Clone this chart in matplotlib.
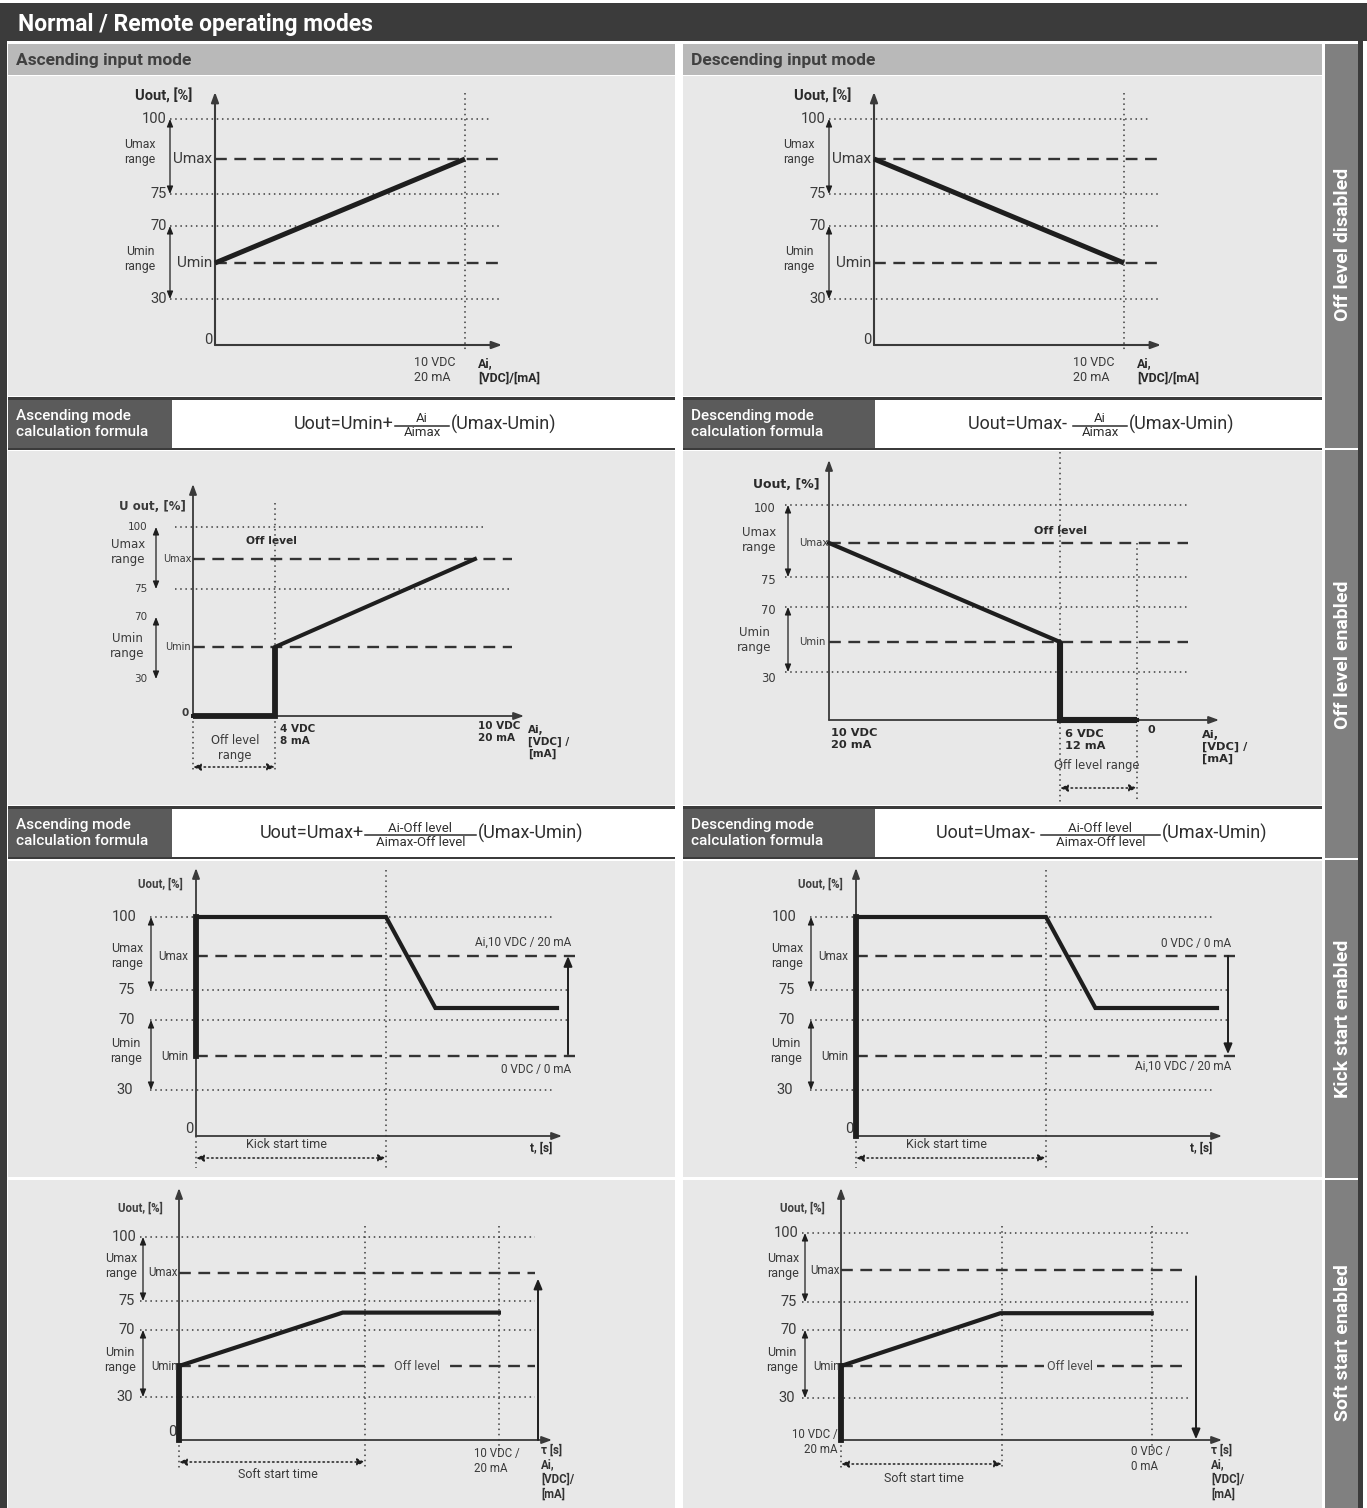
import numpy as np
import matplotlib
matplotlib.use('Agg')
import matplotlib.pyplot as plt
from matplotlib.patches import Rectangle
from matplotlib.transforms import blended_transform_factory as blend, ScaledTranslation

# ---------------- data ----------------
UMIN, UMAX = 50, 90
LEVELS = [0, 30, UMIN, 70, 75, UMAX, 100]
TICK_VALUES = [100, 75, 70, 30]
TICK_TEXT = ['100', '75', '70', '30']

asc_ai = [0, 10]
asc_u = [UMIN, UMAX]
desc_ai = [0, 10]
desc_u = [UMAX, UMIN]

OFF_LEVEL_ASC = 4
OFF_LEVEL_DESC = 6
asc_off_ai = [0, 4, 4, 10]
asc_off_u = [0, 0, UMIN, UMAX]
desc_off_ai = [10, 6, 6, 0]
desc_off_u = [UMAX, UMIN, 0, 0]

KICK_TIME = 5
kick_t = [0, 0, 5, 6.3, 9.5]
kick_asc_u = [UMIN, 100, 100, 72, 72]
kick_desc_u = [0, 100, 100, 72, 72]

SOFT_TIME = 5
soft_asc_t = [0, 0, 4.4, 8.6]
soft_desc_t = [0, 0, 4.95, 9.65]
soft_u = [0, UMIN, 73, 73]

TITLE = 'Normal / Remote operating modes'
COLUMN_HEADERS = ['Ascending input mode', 'Descending input mode']
ROW_LABELS = ['Off level disabled', 'Off level enabled', 'Kick start enabled', 'Soft start enabled']
FORMULA_LABELS = ['Ascending mode\ncalculation formula', 'Descending mode\ncalculation formula']

# ---------------- style ----------------
W, H = 1367, 1508
DARK = '#3b3b3b'
SUBHEAD = '#b9b9b9'
PANEL = '#e8e8e8'
LABELBOX = '#5b5b5b'
SIDE = '#808080'
INK = '#1e1e1e'
TXT = '#3a3a3a'
AXC = '#3a3a3a'
FONT = ['Roboto', 'DejaVu Sans']
VFONT = ['DejaVu Sans']
plt.rcParams['font.family'] = FONT

DOT = dict(color='#3d3d3d', lw=1.1, ls=(0, (1, 2.4)))
DASH = dict(color='#333333', lw=1.7, ls=(0, (5, 3.2)))

fig = plt.figure(figsize=(W / 100, H / 100), dpi=100)
bg = fig.add_axes([0, 0, 1, 1])
bg.set_xlim(0, W)
bg.set_ylim(H, 0)
bg.axis('off')


def rect(x0, y0, x1, y1, c, z=0):
    bg.add_patch(Rectangle((x0, y0), x1 - x0, y1 - y0, facecolor=c,
                           edgecolor='none', zorder=z))


def pw(xp, fp):
    xp = np.asarray(xp, float)
    fp = np.asarray(fp, float)
    o = np.argsort(xp)
    xp, fp = xp[o], fp[o]
    s0 = (fp[1] - fp[0]) / (xp[1] - xp[0])
    s1 = (fp[-1] - fp[-2]) / (xp[-1] - xp[-2])

    def f(v):
        v = np.asarray(v, float)
        out = np.interp(v, xp, fp)
        out = np.where(v < xp[0], fp[0] + (v - xp[0]) * s0, out)
        out = np.where(v > xp[-1], fp[-1] + (v - xp[-1]) * s1, out)
        return out
    return f


def make_chart(xv, xpx, ypx):
    ax = fig.add_axes([0, 0, 1, 1], zorder=2)
    ax.patch.set_visible(False)
    ax.axis('off')
    fx, fxi = pw(xv, xpx), pw(xpx, xv)
    sgn = 1.0 if (xpx[-1] - xpx[0]) * (xv[-1] - xv[0]) > 0 else -1.0
    fy, fyi = pw(LEVELS, ypx), pw(ypx, LEVELS)
    ax.set_xscale('function', functions=(lambda v: sgn * fx(v),
                                         lambda p: fxi(sgn * np.asarray(p, float))))
    ax.set_yscale('function', functions=(lambda v: -fy(v),
                                         lambda p: fyi(-np.asarray(p, float))))
    ax.set_xlim(float(fxi(0)), float(fxi(W)))
    ax.set_ylim(float(fyi(H)), float(fyi(0)))
    ax.set_autoscale_on(False)
    bx = blend(bg.transData, ax.transData)   # x pixel, y data
    by = blend(ax.transData, bg.transData)   # x data, y pixel
    return ax, bx, by


def axes_arrows(ox, oy, ytip, xtip, lw=1.5):
    ap = dict(arrowstyle='-|>,head_length=0.6,head_width=0.22', color=AXC,
              lw=lw, shrinkA=0, shrinkB=0)
    bg.annotate('', xy=(ox, ytip), xytext=(ox, oy), arrowprops=ap, zorder=3)
    bg.annotate('', xy=(xtip, oy), xytext=(ox, oy), arrowprops=ap, zorder=3)


def range_arrow(ax, bx, x, v_top, v_bot):
    ax.annotate('', xy=(x, v_top), xytext=(x, v_bot), xycoords=bx, textcoords=bx,
                arrowprops=dict(arrowstyle='<|-|>,head_length=0.45,head_width=0.18',
                                color=INK, lw=0.9, shrinkA=0, shrinkB=0))


def span_arrow(ax, by, v0, v1, y):
    ax.annotate('', xy=(v1, y), xytext=(v0, y), xycoords=by, textcoords=by,
                arrowprops=dict(arrowstyle='<|-|>,head_length=0.45,head_width=0.2',
                                color=INK, lw=1.1, ls=(0, (1, 2)), shrinkA=0, shrinkB=0))


def level_arrow(ax, bx, x, v_from, v_to):
    ax.annotate('', xy=(x, v_to), xytext=(x, v_from), xycoords=bx, textcoords=bx,
                arrowprops=dict(arrowstyle='-|>,head_length=0.6,head_width=0.25',
                                color=INK, lw=1.4, shrinkA=0, shrinkB=0))


def T(x, y, s, fs=9, **kw):
    kw.setdefault('color', TXT)
    kw.setdefault('ha', 'left')
    kw.setdefault('va', 'center')
    bg.text(x, y, s, fontsize=fs, **kw)


# ---------------- frame ----------------
rect(0, 0, W, H, 'white')
rect(0, 3, W, 41, DARK)
rect(0, 3, 7, H, DARK)
rect(1358, 3, 1363, H, DARK)
T(18, 24, TITLE, 16.5, color='white', fontweight='bold')

for (x0, x1, lab_x1), head, flab in zip([(8, 675, 172), (683, 1322, 875)],
                                        COLUMN_HEADERS, FORMULA_LABELS):
    rect(x0, 44, x1, 75, SUBHEAD)
    T(x0 + 8, 60, head, 12.5, color='#404040', fontweight='bold')
    rect(x0, 76, x1, 396, PANEL)
    rect(x0, 451, x1, 805, PANEL)
    rect(x0, 861, x1, 1177, PANEL)
    rect(x0, 1180, x1, H, PANEL)
    for ya, yb in [(400, 448), (809, 857)]:
        rect(x0, ya - 3, x1, ya, DARK)
        rect(x0, yb, x1, yb + 2, DARK)
        rect(x0, ya, lab_x1, yb, LABELBOX)
        T(x0 + 8, (ya + yb) / 2, flab, 11, color='white', linespacing=1.2,
          fontweight='medium')

rect(1325, 44, 1358, H, SIDE)
for ys in (448, 858, 1178):
    rect(1325, ys, 1358, ys + 2, 'white')
for yc, lab in zip([244, 655, 1019, 1343], ROW_LABELS):
    T(1343, yc, lab, 14, color='white', fontweight='bold', rotation=90, ha='center')

# ---------------- formulas ----------------
FCOL = '#2e2e2e'


def formula(xb0, xb1, y, left, num, den, right, fs=13, ffs=9.5):
    T(xb0 - 1, y, left, fs, color=FCOL, ha='right')
    bg.plot([xb0, xb1], [y + 2, y + 2], color=FCOL, lw=1.1)
    T((xb0 + xb1) / 2, y + 1.5, num, ffs, color=FCOL, ha='center', va='bottom')
    T((xb0 + xb1) / 2, y + 2.5, den, ffs, color=FCOL, ha='center', va='top')
    T(xb1 + 2, y, right, fs, color=FCOL)


formula(395, 449, 424, 'Uout=Umin+', 'Ai', 'Aimax', '(Umax-Umin)')
formula(1073, 1127, 424, 'Uout=Umax- ', 'Ai', 'Aimax', '(Umax-Umin)')
formula(365, 476, 833, 'Uout=Umax+', 'Ai-Off level', 'Aimax-Off level', '(Umax-Umin)')
formula(1041, 1160, 833, 'Uout=Umax- ', 'Ai-Off level', 'Aimax-Off level', '(Umax-Umin)')


# ---------------- row 1: off level disabled ----------------
def chart_basic(xoff, ai, u):
    ox = 215 + xoff
    ax, bx, by = make_chart([0, 10], [ox, 465 + xoff], [345, 299, 263, 226, 194, 159, 119])
    for v, x1 in zip(TICK_VALUES, [490, 500, 500, 500]):
        ax.plot([170 + xoff, x1 + xoff], [v, v], transform=bx, **DOT)
    for v in (UMAX, UMIN):
        ax.plot([ox, 500 + xoff], [v, v], transform=bx, **DASH)
    ax.plot([10, 10], [93, 350], transform=by, **DOT)
    axes_arrows(ox, 345, 92, 502 + xoff)
    for v, t in zip(TICK_VALUES, TICK_TEXT):
        ax.text(167 + xoff, v, t, transform=bx, ha='right', va='center', fontsize=10.5, color=TXT)
    T(212 + xoff, 340, '0', 10.5, ha='right')
    ax.text(212 + xoff, UMAX, 'Umax', transform=bx, ha='right', va='center', fontsize=11, color=TXT)
    ax.text(212 + xoff, UMIN, 'Umin', transform=bx, ha='right', va='center', fontsize=11, color=TXT)
    T(140 + xoff, 152, 'Umax\nrange', 8.8, ha='center', linespacing=1.25)
    T(140 + xoff, 259, 'Umin\nrange', 8.8, ha='center', linespacing=1.25)
    range_arrow(ax, bx, 170 + xoff, 100, 75)
    range_arrow(ax, bx, 170 + xoff, 70, 30)
    T(164 + xoff, 96, 'Uout, [%]', 10.5, ha='center', fontweight='bold', color='#2a2a2a')
    T(414 + xoff, 370, '10 VDC\n20 mA', 9, linespacing=1.2)
    T(478 + xoff, 371, 'Ai,\n[VDC]/[mA]', 9, fontweight='bold', linespacing=1.2, color='#2a2a2a')
    ax.plot(ai, u, color=INK, lw=3.6, solid_capstyle='butt')


chart_basic(0, asc_ai, asc_u)
chart_basic(659, desc_ai, desc_u)

# ---------------- row 2: off level enabled ----------------
# ascending
ax, bx, by = make_chart([0, OFF_LEVEL_ASC, 10], [193, 275, 475],
                        [716, 679, 647, 617, 589, 559, 527])
ax.plot([175, 485], [100, 100], transform=bx, **DOT)
ax.plot([175, 512], [75, 75], transform=bx, **DOT)
for v in (UMAX, UMIN):
    ax.plot([193, 512], [v, v], transform=bx, **DASH)
ax.plot([OFF_LEVEL_ASC] * 2, [503, 772], transform=by, **DOT)
ax.plot([0, 0], [716, 772], transform=by, **DOT)
axes_arrows(193, 716, 484, 524, lw=1.3)
for v, t in zip(TICK_VALUES, TICK_TEXT):
    ax.text(147, v, t, transform=bx, ha='right', va='center', fontsize=7.5, color=TXT, family=VFONT)
T(189, 713, '0', 7.5, ha='right', family=VFONT, fontweight='bold')
ax.text(192, UMAX, 'Umax', transform=bx, ha='right', va='center', fontsize=7, color=TXT, family=VFONT)
ax.text(191, UMIN, 'Umin', transform=bx, ha='right', va='center', fontsize=7, color=TXT, family=VFONT)
T(128, 552, 'Umax\nrange', 8.5, ha='center', family=VFONT, linespacing=1.3)
T(127, 646, 'Umin\nrange', 8.5, ha='center', family=VFONT, linespacing=1.3)
range_arrow(ax, bx, 156, 100, 75)
range_arrow(ax, bx, 156, 70, 30)
T(152, 506, 'U out, [%]', 8.5, ha='center', family=VFONT, fontweight='bold')
T(271, 541, 'Off level', 7.7, ha='center', family=VFONT, fontweight='bold', color='#2a2a2a')
T(280, 735, '4 VDC\n8 mA', 7.5, family=VFONT, fontweight='bold', linespacing=1.3, color='#2a2a2a')
T(235, 748, 'Off level\nrange', 8.3, ha='center', family=VFONT, linespacing=1.25)
span_arrow(ax, by, 0, OFF_LEVEL_ASC, 767)
T(478, 732, '10 VDC\n20 mA', 7.5, family=VFONT, fontweight='bold', linespacing=1.3, color='#2a2a2a')
T(528, 742, 'Ai,\n[VDC] /\n[mA]', 7.5, family=VFONT, fontweight='bold', linespacing=1.25, color='#2a2a2a')
ax.plot(asc_off_ai, asc_off_u, color=INK, lw=2.9, solid_joinstyle='miter')
ax.plot(asc_off_ai[:3], asc_off_u[:3], color=INK, lw=4.2, solid_joinstyle='miter',
        solid_capstyle='butt')

# descending
ax, bx, by = make_chart([0, OFF_LEVEL_DESC, 10], [1137, 1060, 829],
                        [720, 672, 642, 607, 577, 543, 505])
for v in TICK_VALUES:
    ax.plot([785, 1188], [v, v], transform=bx, **DOT)
for v in (UMAX, UMIN):
    ax.plot([829, 1188], [v, v], transform=bx, **DASH)
ax.plot([OFF_LEVEL_DESC] * 2, [452, 802], transform=by, **DOT)
ax.plot([0, 0], [543, 802], transform=by, **DOT)
axes_arrows(829, 720, 460, 1219, lw=1.3)
for v, t in zip(TICK_VALUES, TICK_TEXT):
    dy = 6 if v == 30 else 3
    ax.text(776, v, t, transform=bx + ScaledTranslation(0, -dy / 100, fig.dpi_scale_trans),
            ha='right', va='center', fontsize=8.3, color=TXT, family=VFONT)
ax.text(828, UMAX, 'Umax', transform=bx, ha='right', va='center', fontsize=7.3, color=TXT, family=VFONT)
ax.text(826, UMIN, 'Umin', transform=bx, ha='right', va='center', fontsize=7.3, color=TXT, family=VFONT)
T(759, 540, 'Umax\nrange', 8.5, ha='center', family=VFONT, linespacing=1.3)
T(754, 640, 'Umin\nrange', 8.5, ha='center', family=VFONT, linespacing=1.3)
range_arrow(ax, bx, 788, 100, 75)
range_arrow(ax, bx, 788, 70, 30)
T(786, 484, 'Uout, [%]', 9, ha='center', family=VFONT, fontweight='bold', color='#2a2a2a')
T(1060, 531, 'Off level', 8, ha='center', family=VFONT, fontweight='bold', color='#2a2a2a')
T(831, 739, '10 VDC\n20 mA', 8.2, family=VFONT, fontweight='bold', linespacing=1.25, color='#2a2a2a')
T(1065, 740, '6 VDC\n12 mA', 8.2, family=VFONT, fontweight='bold', linespacing=1.25, color='#2a2a2a')
T(1151, 730, '0', 8, ha='center', family=VFONT, fontweight='bold', color='#2a2a2a')
T(1097, 766, 'Off level range', 8.3, ha='center', family=VFONT)
span_arrow(ax, by, OFF_LEVEL_DESC, 0, 788)
T(1202, 747, 'Ai,\n[VDC] /\n[mA]', 8.2, family=VFONT, fontweight='bold', linespacing=1.2, color='#2a2a2a')
ax.plot(desc_off_ai, desc_off_u, color=INK, lw=3.0, solid_joinstyle='miter')
ax.plot(desc_off_ai[1:], desc_off_u[1:], color=INK, lw=4.4, solid_joinstyle='miter',
        solid_capstyle='butt')


# ---------------- row 3: kick start ----------------
def chart_kick(xoff, t, u, ascending):
    ox = 196 + xoff
    ax, bx, by = make_chart([0, KICK_TIME], [ox, 386 + xoff],
                            [1136, 1090, 1056, 1020, 990, 956, 917])
    for v, x1 in zip(TICK_VALUES, [555, 570, 570, 555]):
        ax.plot([150 + xoff, x1 + xoff], [v, v], transform=bx, **DOT)
    for v in (UMAX, UMIN):
        ax.plot([ox, 575 + xoff], [v, v], transform=bx, **DASH)
    ax.plot([KICK_TIME] * 2, [870, 1168], transform=by, **DOT)
    ax.plot([0, 0], [1136, 1168], transform=by, **DOT)
    axes_arrows(ox, 1136, 868, 562 + xoff, lw=1.3)
    for v, tt, xr in zip(TICK_VALUES, TICK_TEXT, [137, 135, 135, 133]):
        ax.text(xr + xoff, v, tt, transform=bx, ha='right', va='center', fontsize=10.5, color=TXT)
    T(193 + xoff, 1129, '0', 10.5, ha='right')
    ax.text(188 + xoff, UMAX, 'Umax', transform=bx, ha='right', va='center', fontsize=8.5, color=TXT)
    ax.text(188 + xoff, UMIN, 'Umin', transform=bx, ha='right', va='center', fontsize=8.5, color=TXT)
    T(127 + xoff, 956, 'Umax\nrange', 9, ha='center', linespacing=1.25)
    T(126 + xoff, 1051, 'Umin\nrange', 9, ha='center', linespacing=1.25)
    range_arrow(ax, bx, 151 + xoff, 100, 75)
    range_arrow(ax, bx, 151 + xoff, 70, 30)
    T(160 + xoff, 884, 'Uout, [%]', 8.3, ha='center', fontweight='bold', color='#404040')
    if ascending:
        T(571 + xoff, 942, 'Ai,10 VDC / 20 mA', 8.5, ha='right')
        T(571 + xoff, 1069, '0 VDC / 0 mA', 8.5, ha='right')
        level_arrow(ax, bx, 568 + xoff, UMIN + 1, UMAX)
    else:
        T(571 + xoff, 943, '0 VDC / 0 mA', 8.5, ha='right')
        T(571 + xoff, 1066, 'Ai,10 VDC / 20 mA', 8.5, ha='right')
        level_arrow(ax, bx, 568 + xoff, UMAX, UMIN + 1)
    T(286 + xoff, 1145, 'Kick start time', 9, ha='center')
    span_arrow(ax, by, 0, KICK_TIME, 1158)
    T(541 + xoff, 1148, 't, [s]', 8.5, ha='center', fontweight='bold', color='#2a2a2a')
    ax.plot(t, u, color=INK, lw=3.0, solid_joinstyle='miter')
    ax.plot(t[:2], u[:2], color=INK, lw=4.2, solid_capstyle='projecting')


chart_kick(0, kick_t, kick_asc_u, True)
chart_kick(660, kick_t, kick_desc_u, False)


# ---------------- row 4: soft start ----------------
def chart_soft(ox, xsoft, xend, t, ypx, x_grid0, x_grid1, dash_end, tend, off_x,
               span_y, soft_lab_x, soft_lab_y):
    ax, bx, by = make_chart([0, SOFT_TIME], [ox, xsoft], ypx)
    for v in TICK_VALUES:
        ax.plot([x_grid0, x_grid1], [v, v], transform=bx, **DOT)
    ax.plot([ox, dash_end], [UMAX, UMAX], transform=bx, **DASH)
    ax.plot([ox, x_grid1], [UMIN, UMIN], transform=bx, **DASH)
    ax.plot([SOFT_TIME] * 2, [1226, 1470], transform=by, **DOT)
    ax.plot([tend] * 2, [1226, 1452], transform=by, **DOT)
    ax.plot([0, 0], [1440, 1470], transform=by, **DOT)
    axes_arrows(ox, 1440, 1188, xend, lw=1.3)
    d = ox - 179
    for v, tt, xr in zip(TICK_VALUES, TICK_TEXT, [137, 135, 135, 133]):
        ax.text(xr + d, v, tt, transform=bx, ha='right', va='center', fontsize=10.5, color=TXT)
    ax.text(ox - 1, UMAX, 'Umax', transform=bx, ha='right', va='center', fontsize=8.3, color=TXT)
    ax.text(ox - 1, UMIN, 'Umin', transform=bx, ha='right', va='center', fontsize=8.3, color=TXT)
    T(121 + d, 1266, 'Umax\nrange', 9, ha='center', linespacing=1.25)
    T(120 + d, 1360, 'Umin\nrange', 9, ha='center', linespacing=1.25)
    range_arrow(ax, bx, 143 + d, 100, 75)
    range_arrow(ax, bx, 143 + d, 70, 30)
    T(140 + d, 1208, 'Uout, [%]', 8.3, ha='center', fontweight='bold', color='#404040')
    ax.text(off_x, UMIN, 'Off level', transform=bx, ha='center', va='center', fontsize=9,
            color='#4a4a4a', zorder=5, bbox=dict(facecolor=PANEL, edgecolor='none', pad=2.5))
    T(xend - 11, 1472, 'τ [s]\nAi,\n[VDC]/\n[mA]', 8.3, fontweight='bold', linespacing=1.15,
      color='#333333', va='center')
    T(soft_lab_x, soft_lab_y, 'Soft start time', 9, ha='center')
    span_arrow(ax, by, 0, SOFT_TIME, span_y)
    ax.plot(t, soft_u, color=INK, lw=3.0, solid_joinstyle='miter')
    ax.plot(t[:2], soft_u[:2], color=INK, lw=4.2, solid_capstyle='projecting')
    return ax, bx, by


ax, bx, by = chart_soft(179, 365, 552, soft_asc_t, [1440, 1397, 1366, 1330, 1301, 1273, 1237],
                        140, 535, 535, soft_asc_t[-1], 417, 1462, 278, 1474)
T(474, 1461, '10 VDC /\n20 mA', 8.3, linespacing=1.2)
T(172, 1432, '0', 10.5, ha='center')
level_arrow(ax, bx, 538, 0, UMAX - 3)

ax, bx, by = chart_soft(841, 1002, 1222, soft_desc_t, [1440, 1398, 1366, 1330, 1302, 1270, 1233],
                        802, 1188, 1182, soft_desc_t[-1], 1070, 1464, 924, 1479)
T(838, 1442, '10 VDC /\n20 mA', 8.3, ha='right', linespacing=1.2)
T(1131, 1459, '0 VDC /\n0 mA', 8.3, linespacing=1.2)
level_arrow(ax, bx, 1196, UMAX - 3, 0.5)

fig.savefig('out.png', dpi=100)
